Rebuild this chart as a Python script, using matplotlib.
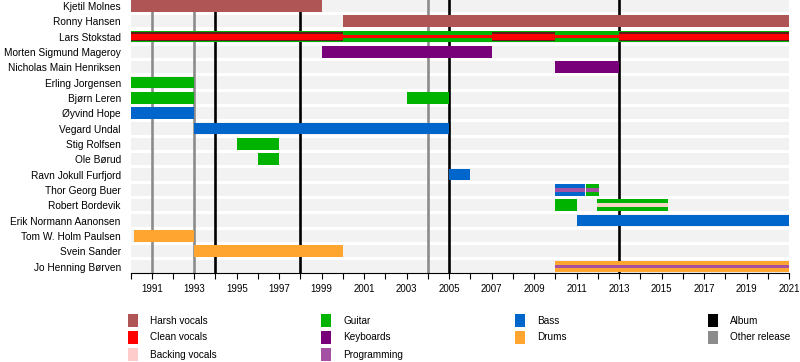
import matplotlib
matplotlib.use("Agg")
import matplotlib.pyplot as plt
from matplotlib.patches import Rectangle

plt.rcParams['font.family'] = ['Liberation Sans', 'DejaVu Sans']

members = ["Kjetil Molnes", "Ronny Hansen", "Lars Stokstad", "Morten Sigmund Mageroy",
           "Nicholas Main Henriksen", "Erling Jorgensen", "Bjørn Leren", "Øyvind Hope",
           "Vegard Undal", "Stig Rolfsen", "Ole Børud", "Ravn Jokull Furfjord",
           "Thor Georg Buer", "Robert Bordevik", "Erik Normann Aanonsen",
           "Tom W. Holm Paulsen", "Svein Sander", "Jo Henning Børven"]

# (member, start, end)
harsh_vocals = [("Kjetil Molnes", 1990, 1999), ("Ronny Hansen", 2000, 2021)]
guitar = [("Lars Stokstad", 1990, 2021), ("Erling Jorgensen", 1990, 1993),
          ("Bjørn Leren", 1990, 1993), ("Bjørn Leren", 2003, 2005),
          ("Stig Rolfsen", 1995, 1997), ("Ole Børud", 1996, 1997),
          ("Thor Georg Buer", 2011.45, 2012.05), ("Robert Bordevik", 2010, 2011),
          ("Robert Bordevik", 2011.95, 2015.3)]
bass = [("Øyvind Hope", 1990, 1993), ("Vegard Undal", 1993, 2005),
        ("Ravn Jokull Furfjord", 2005, 2006), ("Thor Georg Buer", 2010, 2011.38),
        ("Erik Normann Aanonsen", 2011, 2021)]
keyboards = [("Morten Sigmund Mageroy", 1999, 2007), ("Nicholas Main Henriksen", 2010, 2013)]
drums = [("Tom W. Holm Paulsen", 1990.15, 1993), ("Svein Sander", 1993, 2000),
         ("Jo Henning Børven", 2010, 2021)]
# Lars: lead clean vocals periods and secondary periods
clean_vocals_lead = [("Lars Stokstad", 1990, 2000), ("Lars Stokstad", 2007, 2010),
                     ("Lars Stokstad", 2013, 2021)]
clean_vocals_side = [("Lars Stokstad", 2000, 2007), ("Lars Stokstad", 2010, 2013)]
backing_vocals = [("Robert Bordevik", 2011.95, 2015.3)]
programming = [("Thor Georg Buer", 2010, 2011.38), ("Thor Georg Buer", 2011.45, 2012.05),
               ("Jo Henning Børven", 2010, 2021)]

albums = [1994, 1998, 2005, 2013]
other_releases = [1991, 1993, 2004]

start_year, end_year = 1990, 2021

colors = {
    "Harsh vocals": "#B05555", "Clean vocals": "#FF0000", "Backing vocals": "#FFCCCC",
    "Guitar": "#00B300", "Keyboards": "#780078", "Programming": "#A451A4",
    "Bass": "#0066CC", "Drums": "#FFA530", "Album": "#000000", "Other release": "#8C8C8C",
}

fig = plt.figure(figsize=(8, 3.62), dpi=100)
ax = fig.add_axes([130.5 / 800, 1 - 273 / 362, (789 - 130.5) / 800, 273 / 362])

row = {m: i for i, m in enumerate(members)}


def draw(spans, color, h, z):
    ys = [row[m] for m, s, e in spans]
    ax.barh(ys, [e - s for m, s, e in spans], left=[s for m, s, e in spans],
            height=h, color=color, zorder=z, linewidth=0)


# background stripes
ax.barh(range(len(members)), end_year - start_year, left=start_year, height=0.8,
        color="#F2F2F2", zorder=0, linewidth=0)

for x in albums:
    ax.axvline(x, color=colors["Album"], lw=1.9, zorder=1)
for x in other_releases:
    ax.axvline(x, color=colors["Other release"], lw=1.9, zorder=1)

draw(harsh_vocals, colors["Harsh vocals"], 0.76, 2)
draw(guitar, colors["Guitar"], 0.76, 2)
draw(bass, colors["Bass"], 0.76, 2)
draw(keyboards, colors["Keyboards"], 0.76, 2)
draw(drums, colors["Drums"], 0.76, 2)
draw(clean_vocals_lead, "#5E1B1B", 0.54, 3)
draw(clean_vocals_lead, colors["Clean vocals"], 0.4, 4)
draw(clean_vocals_side, colors["Clean vocals"], 0.24, 3)
draw(backing_vocals, "#F7D4C6", 0.26, 3)
draw(programming, colors["Programming"], 0.24, 3)

ax.set_xlim(start_year, end_year)
ax.set_ylim(len(members) - 1 + 0.42, -0.39)
ax.set_yticks(range(len(members)))
ax.set_yticklabels(members, fontsize=7.3)
ax.tick_params(axis="y", length=0, pad=7)
ax.set_xticks(range(1991, end_year + 1, 2))
ax.set_xticks(range(start_year, end_year + 1), minor=True)
ax.tick_params(axis="x", which="both", length=4, width=0.8, labelsize=7, pad=4)
for s in ["top", "right", "left"]:
    ax.spines[s].set_visible(False)
ax.spines["bottom"].set_linewidth(0.8)

# legend drawn in pixel space
lax = fig.add_axes([0, 0, 1, 1])
lax.set_xlim(0, 800)
lax.set_ylim(362, 0)
lax.axis("off")
legend_cols = [["Harsh vocals", "Clean vocals", "Backing vocals"],
               ["Guitar", "Keyboards", "Programming"],
               ["Bass", "Drums"],
               ["Album", "Other release"]]
col_x = [128, 321, 515, 708]
row_y = [320.5, 337.5, 354.5]
for cx, items in zip(col_x, legend_cols):
    for ry, name in zip(row_y, items):
        lax.add_patch(Rectangle((cx, ry - 6.5), 9.5, 13, color=colors[name], lw=0))
        lax.text(cx + 22, ry, name, fontsize=7.2, va="center", ha="left")

fig.savefig("out.png", dpi=100)
